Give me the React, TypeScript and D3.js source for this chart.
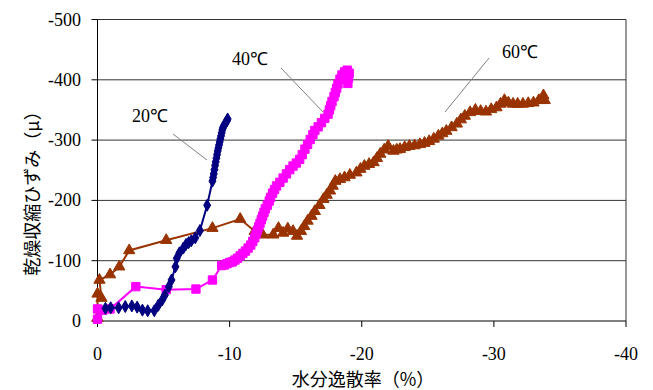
import React from 'react';
import * as d3 from 'd3';

// 水分逸散率 (%) / 乾燥収縮ひずみ (μ)
const x20 = [-0.6, -1.0, -1.6, -2.1, -2.6, -3.0, -3.4, -3.8, -4.3, -4.6, -4.9, -5.1, -5.4, -5.6, -5.9, -6.0, -6.2, -6.5, -6.7, -6.9, -7.1, -7.4, -7.75, -8.3, -8.7, -8.75, -8.8, -8.85, -8.9, -8.95, -9.0, -9.05, -9.1, -9.15, -9.2, -9.25, -9.3, -9.35, -9.4, -9.45, -9.5, -9.6, -9.7, -9.8, -9.85];
const y20 = [-21, -22, -22, -24, -25, -23, -18, -17, -17, -26, -35, -43, -57, -68, -90, -104, -113, -121, -127, -130, -133, -138, -150, -192, -232, -238, -244, -251, -258, -264, -270, -276, -282, -287, -292, -297, -302, -307, -312, -317, -321, -325, -329, -332, -335];

const x40 = [0, 0, -0.4, -0.95, -2.9, -5.2, -7.45, -8.7, -9.4, -9.6, -9.8, -10.0, -10.2, -10.4, -10.6, -10.8, -11.0, -11.2, -11.4, -11.6, -11.75, -11.9, -12.0, -12.1, -12.2, -12.3, -12.4, -12.5, -12.6, -12.7, -12.85, -13.0, -13.1, -13.25, -13.4, -13.55, -13.8, -14.05, -14.3, -14.55, -14.8, -15.05, -15.3, -15.5, -15.7, -15.9, -16.1, -16.3, -16.45, -16.7, -16.95, -17.2, -17.45, -17.55, -17.65, -17.75, -17.9, -18.0, -18.1, -18.2, -18.35, -18.5, -18.7, -18.9, -19.05, -19.0, -18.95];
const y40 = [-3, -20, -18, -20, -57, -52, -53, -68, -92, -93, -95, -97, -98, -101, -104, -108, -112, -116, -121, -126, -132, -138, -144, -150, -156, -162, -168, -174, -180, -186, -192, -199, -205, -212, -218, -224, -230, -237, -244, -251, -257, -262, -268, -276, -285, -293, -301, -309, -316, -322, -329, -336, -343, -350, -357, -364, -372, -379, -386, -393, -401, -408, -413, -416, -411, -403, -394];

const x60 = [0, 0, -0.3, -0.15, -0.95, -1.65, -2.4, -5.2, -8.7, -10.8, -11.9, -12.5, -13.3, -13.7, -14.05, -14.4, -14.8, -15.1, -15.4, -15.65, -15.9, -16.2, -16.45, -16.8, -17.1, -17.35, -17.6, -17.8, -18.0, -18.35, -18.7, -19.1, -19.6, -19.9, -20.2, -20.55, -20.9, -21.15, -21.4, -21.7, -22.0, -22.4, -22.65, -22.9, -23.25, -23.6, -24.0, -24.4, -24.75, -25.1, -25.45, -25.8, -26.1, -26.4, -26.8, -27.2, -27.5, -27.8, -28.2, -28.6, -29.0, -29.4, -29.8, -30.2, -30.5, -30.8, -31.1, -31.45, -31.8, -32.2, -32.6, -33.0, -33.4, -33.75, -33.85];
const y60 = [-5, -45, -38, -68, -77, -90, -117, -134, -154, -169, -149, -143, -143, -154, -146, -153, -149, -141, -149, -157, -166, -174, -182, -192, -202, -209, -216, -224, -232, -235, -238, -242, -246, -252, -257, -260, -263, -270, -277, -284, -290, -282, -284, -285, -288, -290, -291, -293, -295, -298, -302, -307, -311, -315, -321, -327, -334, -340, -346, -350, -348, -347, -351, -354, -360, -366, -362, -360, -360, -360, -361, -362, -366, -374, -366];

const xTicks = [0, -10, -20, -30, -40];
const yTicks = [0, -100, -200, -300, -400, -500];

const series = [
  { name: '60℃', xs: x60, ys: y60, color: '#993300', shape: d3.symbolTriangle, size: 55 },
  { name: '40℃', xs: x40, ys: y40, color: '#FF00FF', shape: d3.symbolSquare, size: 70 },
  { name: '20℃', xs: x20, ys: y20, color: '#000080', shape: d3.symbolDiamond, size: 42 },
];

const labels = [
  { text: '20℃', tx: 132, ty: 122, l: [173, 134, 207, 160] },
  { text: '40℃', tx: 232, ty: 65, l: [281, 68, 323, 112] },
  { text: '60℃', tx: 502, ty: 58, l: [489, 58, 445, 112] },
];

const App = () => {
  const left = 97.5, right = 626, top = 19.5, bottom = 321;
  const x = d3.scaleLinear().domain([0, -40]).range([left, right]);
  const y = d3.scaleLinear().domain([0, -500]).range([bottom, top]);
  const serif = '"Liberation Serif", "Times New Roman", serif';
  const cjk = '"Noto Sans CJK JP", sans-serif';

  return (
    <svg width={653} height={390} style={{ position: 'absolute', left: 0, top: 0, background: '#fff' }}>
      {yTicks.filter((t) => t !== 0).map((t) => (
        <line key={t} x1={left} x2={right} y1={y(t)} y2={y(t)} stroke="#333" strokeWidth={1} />
      ))}
      <line x1={right} x2={right} y1={top} y2={bottom} stroke="#333" />
      <line x1={left} x2={left} y1={top} y2={bottom} stroke="#000" />
      <line x1={left} x2={right} y1={bottom} y2={bottom} stroke="#000" />
      {yTicks.map((t) => (
        <g key={t}>
          <line x1={left - 6} x2={left} y1={y(t)} y2={y(t)} stroke="#000" />
          <text x={81} y={y(t) + 6} textAnchor="end" fontFamily={serif} fontSize={18}>{t}</text>
        </g>
      ))}
      {xTicks.map((t) => (
        <g key={t}>
          <line x1={x(t)} x2={x(t)} y1={bottom} y2={bottom + 6} stroke="#000" />
          <text x={x(t)} y={360} textAnchor="middle" fontFamily={serif} fontSize={18}>{t}</text>
        </g>
      ))}
      {series.map((s) => {
        const pts = s.xs.map((v, i) => [x(v), y(s.ys[i])] as [number, number]);
        const sym = d3.symbol().type(s.shape).size(s.size)();
        return (
          <g key={s.name}>
            <path d={d3.line()(pts) || ''} fill="none" stroke={s.color} strokeWidth={2} />
            {pts.map((p, i) => (
              <path key={i} d={sym || ''} transform={`translate(${p[0]},${p[1]})`} fill={s.color} stroke={s.color} />
            ))}
          </g>
        );
      })}
      {labels.map((a) => (
        <g key={a.text}>
          <line x1={a.l[0]} y1={a.l[1]} x2={a.l[2]} y2={a.l[3]} stroke="#808080" strokeWidth={1} />
          <text x={a.tx} y={a.ty} fontFamily={serif} fontSize={18}>{a.text}</text>
        </g>
      ))}
      <text x={363} y={386} textAnchor="middle" fontFamily={cjk} fontSize={18}>水分逸散率（%）</text>
      <text transform="translate(39,189) rotate(-90)" textAnchor="middle" fontFamily={cjk} fontSize={18}>乾燥収縮ひずみ（μ）</text>
    </svg>
  );
};

export default App;
